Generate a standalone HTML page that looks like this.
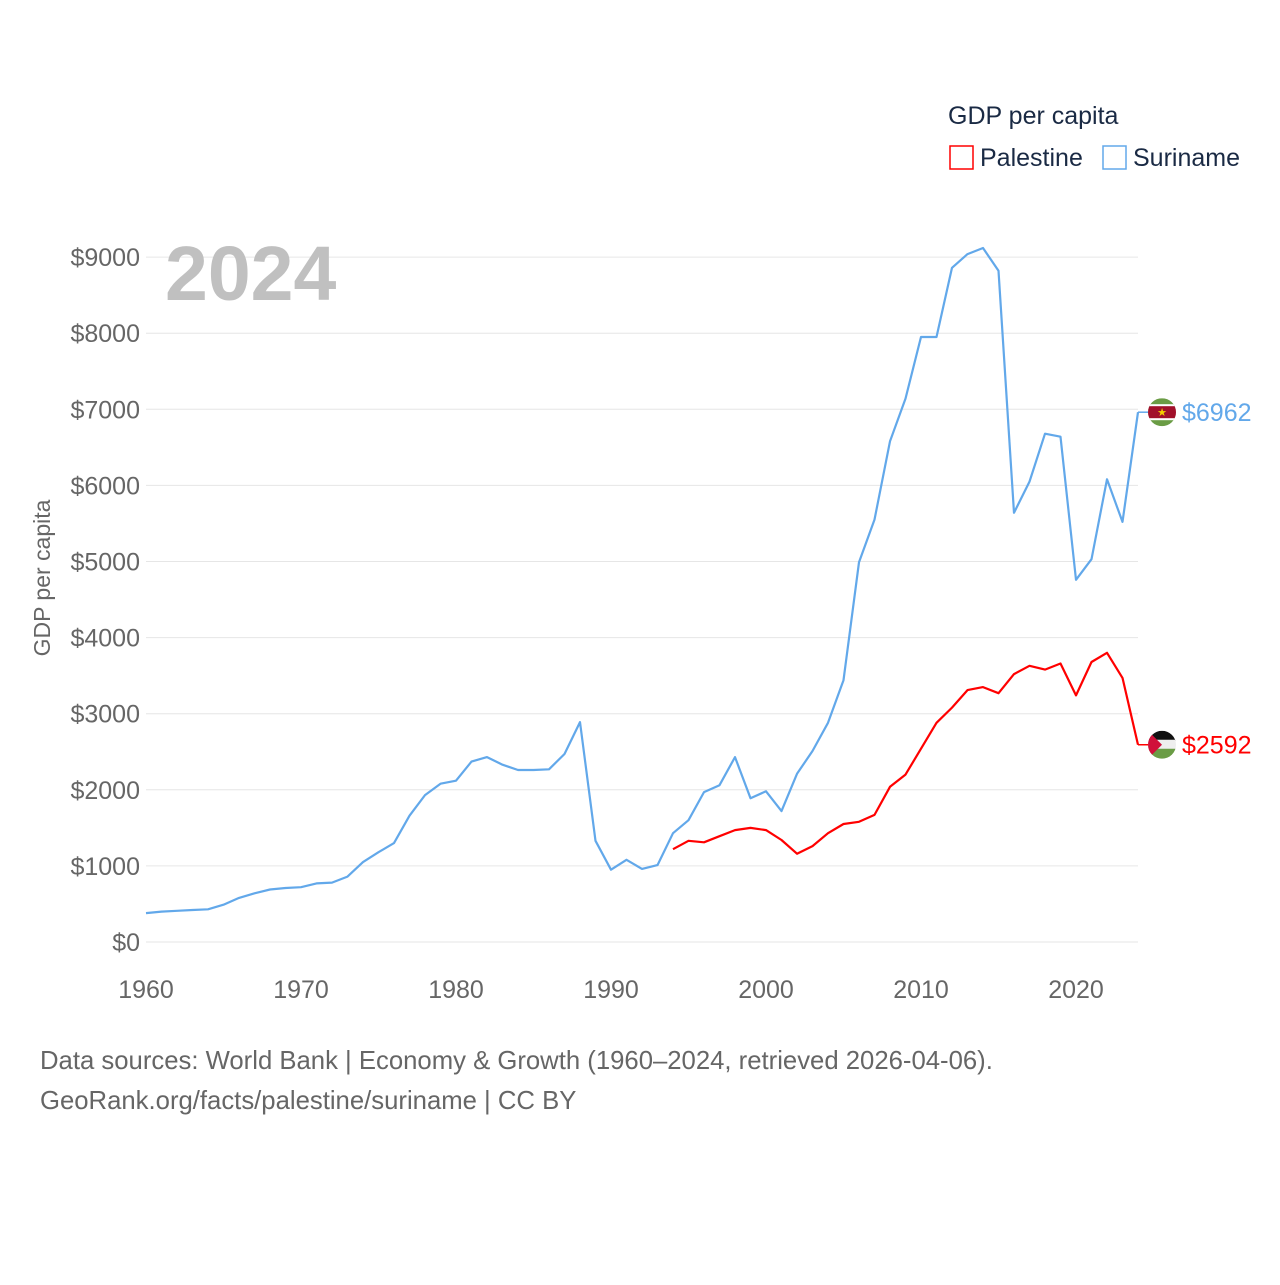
<!DOCTYPE html>
<html><head><meta charset="utf-8"><style>
body{margin:0;background:#fff;font-family:"Liberation Sans",sans-serif}
svg text{font-family:"Liberation Sans",sans-serif}
</style></head><body>
<svg id="chart" width="1280" height="1280">
<g id="grid"></g>
<g id="yticks"></g>
<g id="xticks"></g>
<text x="165" y="300" font-size="77" font-weight="bold" fill="#c0c0c0">2024</text>
<text transform="translate(50,578) rotate(-90)" text-anchor="middle" font-size="23" fill="#666">GDP per capita</text>
<text x="948" y="124" font-size="25" fill="#1a2a44">GDP per capita</text>
<g><rect x="950" y="146" width="23" height="23" fill="none" stroke="#ff0000" stroke-width="1.5"/><text x="980" y="166" font-size="25" fill="#1a2a44">Palestine</text></g>
<g><rect x="1103" y="146" width="23" height="23" fill="none" stroke="#62a8ea" stroke-width="1.5"/><text x="1133" y="166" font-size="25" fill="#1a2a44">Suriname</text></g>
<g id="series"></g>
<text x="40" y="1069" font-size="25.7" fill="#666">Data sources: World Bank | Economy &amp; Growth (1960–2024, retrieved 2026-04-06).</text>
<text x="40" y="1109" font-size="25.7" fill="#666">GeoRank.org/facts/palestine/suriname | CC BY</text>
</svg>
<script>
const yTicks=[0,1000,2000,3000,4000,5000,6000,7000,8000,9000];
const xTicks=[1960,1970,1980,1990,2000,2010,2020];
const surYears=[];for(let y=1960;y<=2024;y++)surYears.push(y);
const surValues=[380,400,410,420,430,490,580,640,690,710,720,770,780,860,1050,1180,1300,1660,1930,2080,2120,2370,2430,2330,2260,2260,2270,2470,2890,1330,950,1080,960,1010,1430,1600,1970,2060,2430,1890,1980,1720,2210,2510,2880,3440,4990,5550,6580,7140,7950,7950,8860,9040,9120,8820,5640,6050,6680,6640,4760,5030,6080,5520,6962];
const palYears=[];for(let y=1994;y<=2024;y++)palYears.push(y);
const palValues=[1220,1330,1310,1390,1470,1500,1470,1340,1160,1260,1430,1550,1580,1670,2040,2200,2540,2880,3080,3310,3350,3270,3520,3630,3580,3660,3240,3680,3800,3470,2592];
const NS='http://www.w3.org/2000/svg';
const X=y=>146+(y-1960)*15.5;
const Y=v=>942-v*0.0761;
function mk(tag,attrs,parent){const e=document.createElementNS(NS,tag);for(const k in attrs)e.setAttribute(k,attrs[k]);parent.appendChild(e);return e;}
const grid=document.getElementById('grid'),yt=document.getElementById('yticks'),xt=document.getElementById('xticks'),ser=document.getElementById('series');
yTicks.forEach(v=>{
 const l=mk('line',{x1:146,x2:1138,y1:Y(v),y2:Y(v),stroke:'#e6e6e6','stroke-width':1},grid);
 
 
 const t=mk('text',{x:140,y:Y(v)+9,'text-anchor':'end','font-size':25,fill:'#666'},yt);
 t.textContent='$'+v;
 
 
});
xTicks.forEach(y=>{
 const t=mk('text',{x:X(y),y:998,'text-anchor':'middle','font-size':25,fill:'#666'},xt);
 t.textContent=y;
 
 
});
function line(years,vals,color,name){
 const d=years.map((y,i)=>(i?'L':'M')+X(y).toFixed(1)+','+Y(vals[i]).toFixed(1)).join('');
 const p=mk('path',{d:d,fill:'none',stroke:color,'stroke-width':2.2,'stroke-linejoin':'round'},ser);
 
 
 const lv=vals[vals.length-1],ly=Y(lv),lx=X(years[years.length-1]);
 const c=mk('line',{x1:lx,x2:1150,y1:ly,y2:ly,stroke:color,'stroke-width':1.5},ser);
 
 
 const t=mk('text',{x:1182,y:ly+9,'font-size':25,fill:color},ser);
 t.textContent='$'+lv;
 
 
 return ly;
}
const sy=line(surYears,surValues,'#62a8ea','suriname');
const py=line(palYears,palValues,'#ff0000','palestine');
const sf=mk('g',{},ser);


sf.innerHTML=`<clipPath id="cs"><circle cx="1162" cy="${sy}" r="14"/></clipPath><g clip-path="url(#cs)"><rect x="1148" y="${sy-14}" width="28" height="28" fill="#6a9c45"/><rect x="1148" y="${sy-8}" width="28" height="16" fill="#fff"/><rect x="1148" y="${sy-6}" width="28" height="12" fill="#a1102a"/><text x="1162" y="${sy+4}" text-anchor="middle" font-size="11" fill="#f4d000">★</text></g>`;
const pf=mk('g',{},ser);


pf.innerHTML=`<clipPath id="cp"><circle cx="1162" cy="${py}" r="14"/></clipPath><g clip-path="url(#cp)"><rect x="1148" y="${py-14}" width="28" height="10" fill="#111"/><rect x="1148" y="${py-5}" width="28" height="10" fill="#eee"/><rect x="1148" y="${py+4}" width="28" height="10" fill="#6a9c45"/><polygon points="1148,${py-14} 1162,${py} 1148,${py+14}" fill="#d0103a"/></g>`;
</script>
</body></html>
